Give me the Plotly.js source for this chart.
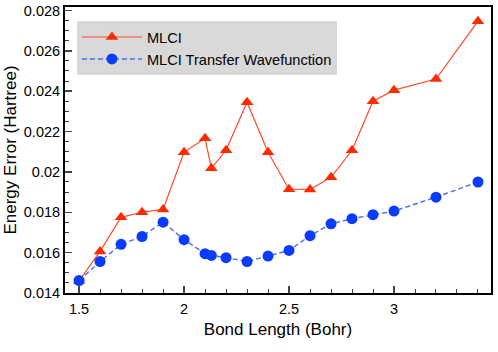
<!DOCTYPE html>
<html>
<head>
<meta charset="utf-8">
<script src="https://cdn.plot.ly/plotly-3.0.1.min.js"></script>
<style>
  html, body { margin: 0; padding: 0; background: #fff; }
  #plot { width: 498px; height: 352px; }
</style>
</head>
<body>
<div id="plot"></div>
<script>
// bond lengths (Bohr)
const bondLength = [1.5, 1.6, 1.7, 1.8, 1.9, 2.0, 2.1, 2.13, 2.2, 2.3, 2.4, 2.5, 2.6, 2.7, 2.8, 2.9, 3.0, 3.2, 3.4];

// energy errors (Hartree)
const mlci = [0.01460, 0.01606, 0.01775, 0.01800, 0.01814, 0.02097, 0.02167, 0.02018, 0.02107, 0.02345,
              0.02097, 0.01914, 0.01913, 0.01973, 0.02107, 0.02350, 0.02405, 0.02460, 0.02747];
const mlciTransfer = [0.01462, 0.01556, 0.01641, 0.01680, 0.01751, 0.01664, 0.01595, 0.01586, 0.01575, 0.01556,
                      0.01583, 0.01611, 0.01684, 0.01743, 0.01768, 0.01788, 0.01806, 0.01875, 0.01950];

const yTicks = [0.014, 0.016, 0.018, 0.020, 0.022, 0.024, 0.026, 0.028];
const yLabels = ['0.014', '0.016', '0.018', '0.02', '0.022', '0.024', '0.026', '0.028'];
const xTicks = [1.5, 2, 2.5, 3];
const xLabels = ['1.5', '2', '2.5', '3'];

const trace1 = {
    x: bondLength,
    y: mlci,
    name: 'MLCI',
    type: 'scatter',
    mode: 'lines+markers',
    line: { color: '#ff4a2a', width: 1.2 },
    marker: { symbol: 'triangle-up', size: 11, color: '#ff2a00' }
};

const trace2 = {
    x: bondLength,
    y: mlciTransfer,
    name: 'MLCI Transfer Wavefunction',
    type: 'scatter',
    mode: 'lines+markers',
    line: { color: '#4a6cf0', width: 1.4, dash: '5px,3px' },
    marker: { symbol: 'circle', size: 11, color: '#0a3cff' }
};

const font = { family: 'Liberation Sans, Arial, sans-serif', color: '#000' };

const layout = {
    width: 498,
    height: 352,
    margin: { l: 65, r: 7, t: 7, b: 59 },
    paper_bgcolor: '#fff',
    plot_bgcolor: '#fff',
    font: Object.assign({ size: 14 }, font),
    showlegend: true,
    legend: {
        x: 0.028, y: 0.951, xanchor: 'left', yanchor: 'top',
        bgcolor: '#d9d9d9',
        borderwidth: 0,
        itemwidth: 60,
        font: Object.assign({ size: 14.6 }, font)
    },
    xaxis: {
        title: { text: 'Bond Length (Bohr)', font: Object.assign({ size: 17 }, font), standoff: 7 },
        range: [1.433, 3.462],
        tickvals: xTicks,
        ticktext: xLabels,
        ticks: 'inside',
        ticklen: 7,
        tickwidth: 1.5,
        ticklabelstandoff: 2,
        tickfont: Object.assign({ size: 14.5 }, font),
        minor: { dtick: 0.1, ticks: 'inside', ticklen: 4, tickwidth: 1 },
        showline: true, linecolor: '#000', linewidth: 2, mirror: true,
        showgrid: false, zeroline: false
    },
    yaxis: {
        title: { text: 'Energy Error (Hartree)', font: Object.assign({ size: 17 }, font), standoff: 3 },
        range: [0.014, 0.02817],
        tickvals: yTicks,
        ticktext: yLabels,
        ticks: 'inside',
        ticklen: 7,
        tickwidth: 1.5,
        tickfont: Object.assign({ size: 14.5 }, font),
        minor: { dtick: 0.0005, ticks: 'inside', ticklen: 4, tickwidth: 1 },
        showline: true, linecolor: '#000', linewidth: 2, mirror: true,
        showgrid: false, zeroline: false
    }
};

Plotly.newPlot('plot', [trace1, trace2], layout, { displayModeBar: false, staticPlot: true });
</script>
</body>
</html>
